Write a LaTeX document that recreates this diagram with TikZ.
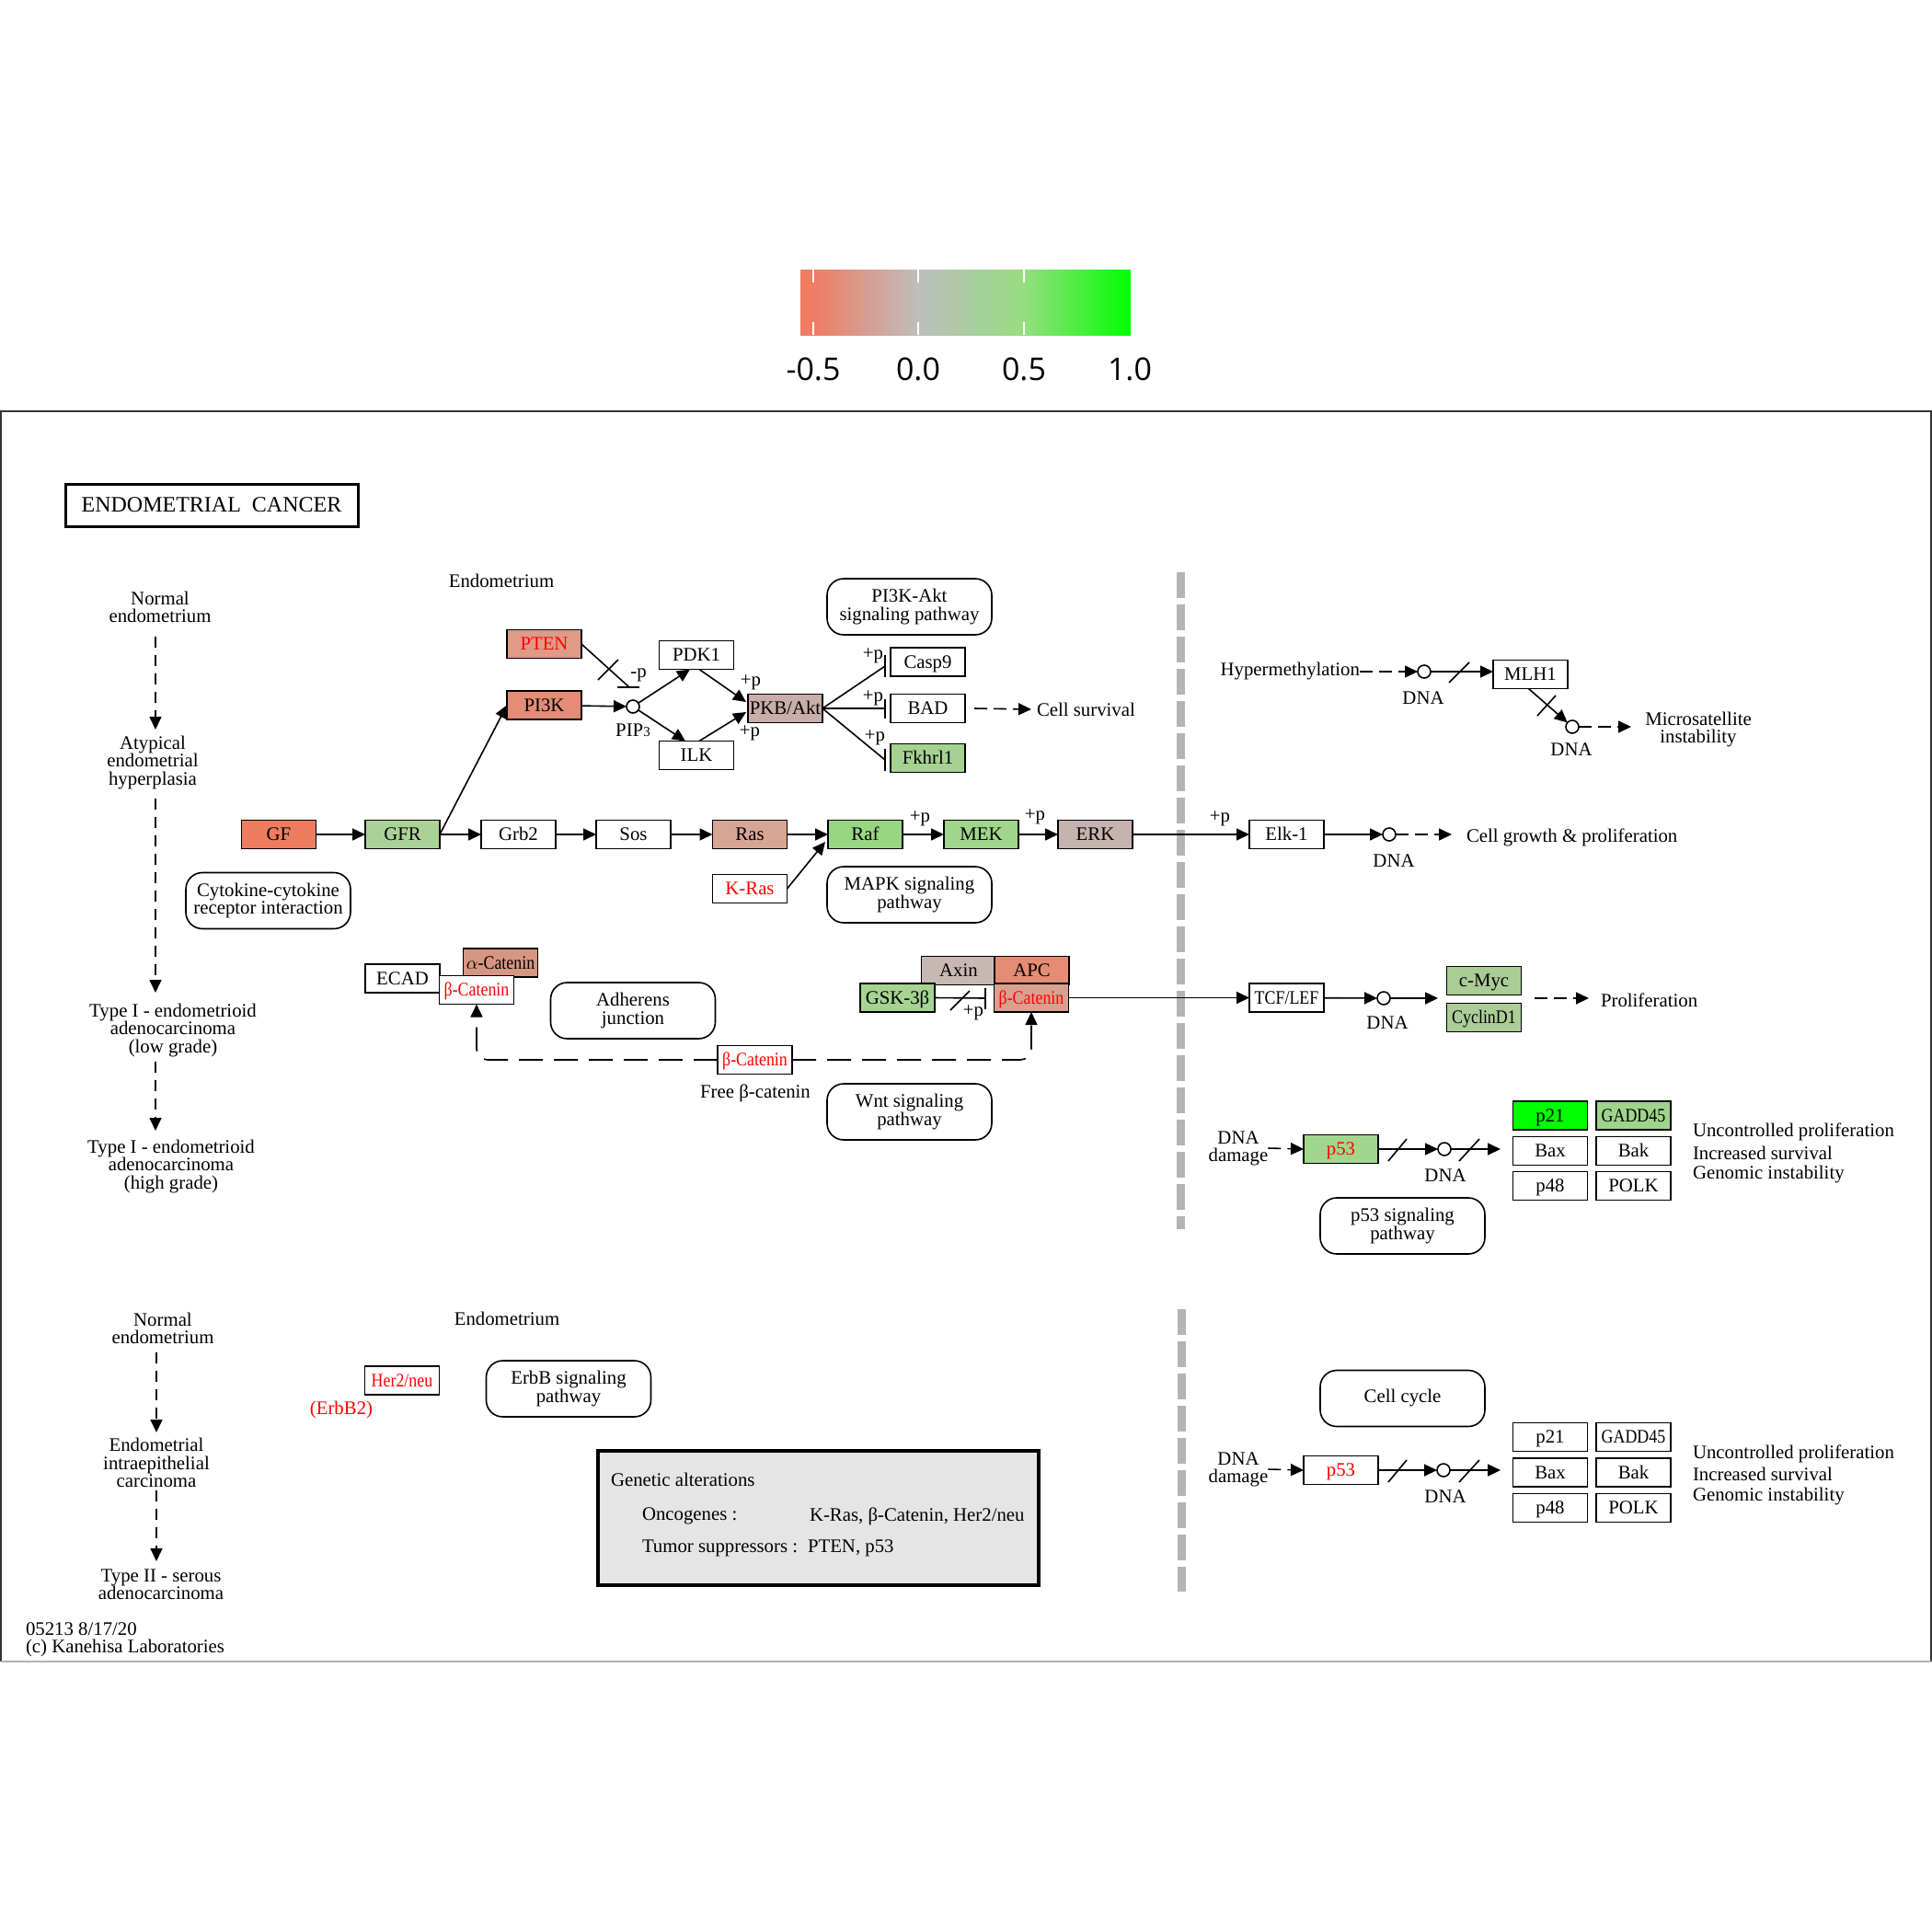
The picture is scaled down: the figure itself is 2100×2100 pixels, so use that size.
\documentclass[tikz,border=0pt]{standalone}
\usepackage{fontspec}
\setmainfont{Liberation Serif}
\newfontfamily\cbfont{Open Sans}
\newfontfamily\narrowfont{Liberation Serif}[FakeStretch=0.86]
\usetikzlibrary{arrows.meta,calc}
\definecolor{cbL}{RGB}{240,124,98}
\definecolor{cbM}{RGB}{190,190,190}
\definecolor{cbH}{RGB}{150,222,128}
\definecolor{cbR}{RGB}{0,255,0}
\definecolor{cGF}{RGB}{238,124,96}
\definecolor{cPTEN}{RGB}{222,155,136}
\definecolor{cPIK}{RGB}{228,140,118}
\definecolor{cRas}{RGB}{215,165,148}
\definecolor{cPKB}{RGB}{200,173,168}
\definecolor{cERK}{RGB}{198,178,174}
\definecolor{cAxin}{RGB}{200,184,180}
\definecolor{cAPC}{RGB}{228,140,116}
\definecolor{cACat}{RGB}{215,150,130}
\definecolor{cBCat}{RGB}{216,160,145}
\definecolor{cGFR}{RGB}{170,210,150}
\definecolor{cRaf}{RGB}{152,214,132}
\definecolor{cMEK}{RGB}{160,213,140}
\definecolor{cFkhr}{RGB}{165,210,145}
\definecolor{cGSK}{RGB}{166,211,145}
\definecolor{cMyc}{RGB}{170,205,150}
\definecolor{cCyc}{RGB}{172,205,152}
\definecolor{cPft}{RGB}{162,214,142}
\definecolor{cPtwo}{RGB}{0,255,0}
\definecolor{cGADD}{RGB}{160,212,140}
\definecolor{divgray}{RGB}{180,180,180}
\definecolor{gabox}{RGB}{229,229,229}
\definecolor{kred}{RGB}{255,0,0}
\pgfdeclarehorizontalshading{cbar}{100bp}{color(0bp)=(cbL); color(26.95bp)=(cbL); color(42.8bp)=(cbM); color(58.8bp)=(cbH); color(75bp)=(cbR); color(100bp)=(cbR)}
\newcommand\kfont{\fontsize{10.4}{9.6}\selectfont}
\newcommand\knarrow{\narrowfont\fontsize{10.4}{9.6}\selectfont}
\newcommand\ksub{\fontsize{7.5}{7.5}\selectfont}
\tikzset{
  gene/.style={draw=black, line width=0.8pt, minimum width=40.5pt, minimum height=15.5pt, inner sep=0pt, outer sep=0pt, font=\kfont, text height=7.2pt, text depth=0.6pt, fill=white},
  ngene/.style={gene, font=\knarrow},
  pmap/.style={draw=black, rounded corners=9pt, line width=0.8pt, minimum width=89.5pt, minimum height=30.5pt, inner sep=0pt, align=center, font=\kfont},
  dna/.style={circle, draw=black, line width=0.8pt, minimum size=7pt, inner sep=0pt, outer sep=0pt, fill=white},
  lbl/.style={font=\kfont, inner sep=0pt, outer sep=0pt, align=center},
  cbl/.style={font={\cbfont\fontsize{17}{17}\selectfont}, inner sep=0pt},
  act/.style={-{Triangle[length=7pt,width=6.5pt]}, line width=0.8pt},
  dact/.style={act, dash pattern=on 7pt off 3.5pt},
  fdash/.style={act, dash pattern=on 13pt off 6pt, rounded corners=6pt},
  prog/.style={act, dash pattern=on 6pt off 4pt},
  kline/.style={line width=0.8pt},
  divider/.style={line width=4.5pt, draw=divgray, dash pattern=on 14pt off 3.5pt},
}
\begin{document}
\begin{tikzpicture}[x=0.5pt,y=-0.5pt]
\useasboundingbox (0,0) rectangle (2100,2100);
\fill[white] (0,0) rectangle (2100,2100);
% ---------- colour bar
\shade[shading=cbar] (870,293) rectangle (1229,364);
\foreach \t in {884,998,1113}{
  \draw[white,line width=1pt] (\t,293) -- (\t,307);
  \draw[white,line width=1pt] (\t,350) -- (\t,364);
}
\node[cbl] (cb1) at (884,401) {-0.5};
\node[cbl] (cb2) at (998,401) {0.0};
\node[cbl] (cb3) at (1113,401) {0.5};
\node[cbl] (cb4) at (1228,401) {1.0};
% ---------- frame and dividers
\draw[black!80,line width=1pt] (1,1806) -- (1,447) -- (2099,447) -- (2099,1806);
\draw[black!30,line width=1pt] (1,1806) -- (2099,1806);
\draw[divider] (1283,622) -- (1283,1336);
\draw[divider] (1284,1423) -- (1284,1730);
% ---------- title
\node[draw, line width=1.5pt, minimum width=159pt, minimum height=23pt, inner sep=0pt, font=\fontsize{12}{12}\selectfont] (title) at (230,549) {ENDOMETRIAL\ \ CANCER};
% ---------- left progression column (upper)
\node[lbl] (ne1) at (174,660) {Normal\\endometrium};
\node[lbl] (aeh) at (166,829) {Atypical\\endometrial\\hyperplasia};
\node[lbl] (t1l) at (188,1120) {Type I - endometrioid\\adenocarcinoma\\(low grade)};
\node[lbl] (t1h) at (186,1268) {Type I - endometrioid\\adenocarcinoma\\(high grade)};
\coordinate (s1a) at (169,692); \coordinate (s1b) at (169,793);
\coordinate (s2a) at (169,868); \coordinate (s2b) at (169,1079);
\coordinate (s3a) at (169,1154); \coordinate (s3b) at (169,1229);
\draw[prog] (s1a) -- (s1b);
\draw[prog] (s2a) -- (s2b);
\draw[prog] (s3a) -- (s3b);
% ---------- left progression column (lower)
\node[lbl] (ne2) at (177,1444) {Normal\\endometrium};
\node[lbl] (eic) at (170,1590) {Endometrial\\intraepithelial\\carcinoma};
\node[lbl] (t2) at (175,1722) {Type II - serous\\adenocarcinoma};
\coordinate (s4a) at (170,1470); \coordinate (s4b) at (170,1557);
\coordinate (s5a) at (170,1620); \coordinate (s5b) at (170,1697);
\draw[prog] (s4a) -- (s4b);
\draw[prog] (s5a) -- (s5b);
\node[lbl, align=left, anchor=west] (foot) at (28,1782) {05213 8/17/20\\(c) Kanehisa Laboratories};
% ---------- section labels
\node[lbl] (endo1) at (545,631) {Endometrium};
\node[lbl] (endo2) at (551,1433) {Endometrium};
% ---------- pathway map boxes
\node[pmap] (pi3kakt) at (988.5,659.5) {PI3K-Akt\\signaling pathway};
\node[pmap] (mapk) at (988.5,972.5) {MAPK signaling\\pathway};
\node[pmap] (cyto) at (291.5,979) {Cytokine-cytokine\\receptor interaction};
\node[pmap] (adh) at (688,1098.5) {Adherens\\junction};
\node[pmap] (wnt) at (988.5,1208.5) {Wnt signaling\\pathway};
\node[pmap] (p53sig) at (1524.5,1332.5) {p53 signaling\\pathway};
\node[pmap] (ccyc) at (1524.5,1520) {Cell cycle};
\node[pmap] (erbb) at (618,1509.5) {ErbB signaling\\pathway};
% ---------- PI3K branch
\node[gene, fill=cPTEN, text=kred] (PTEN) at (591.5,700) {PTEN};
\node[gene, fill=cPIK] (PI3K) at (591.5,766.5) {PI3K};
\node[gene] (PDK1) at (757,712) {PDK1};
\node[gene] (ILK) at (757,821) {ILK};
\node[gene, fill=cPKB] (PKB) at (853.5,770) {PKB/Akt};
\node[gene] (Casp9) at (1008.5,719.5) {Casp9};
\node[gene] (BAD) at (1008.5,770) {BAD};
\node[gene, fill=cFkhr] (Fkhrl1) at (1008.5,824) {Fkhrl1};
\node[dna] (pip3) at (688,768) {};
\node[lbl] (pip3l) at (688,794) {PIP{\ksub 3}};
\node[lbl] (mp) at (694,734) {-p};
\node[lbl, anchor=west] (surv) at (1127,771) {Cell survival};
\coordinate (ptenEnd) at (684,747);
\draw[kline] (PTEN.east) -- (ptenEnd);
\draw[kline] ($(ptenEnd)+(-13,0)$) -- ($(ptenEnd)+(11,0)$);
\draw[kline] (650,739) -- (672,717);
\draw[act] (PI3K) -- (pip3);
\draw[act] (pip3) -- ($(PDK1.south)+(-7,0)$);
\draw[act] (pip3) -- ($(ILK.north)+(-12,0)$);
\draw[act] ($(PDK1.south)+(3,0)$) -- ($(PKB.west)+(-2,-7)$);
\draw[act] ($(ILK.north)+(3,0)$) -- ($(PKB.west)+(-2,4)$);
\node[lbl] (pp1) at (816,742) {+p};
\node[lbl] (pp2) at (815,797) {+p};
\coordinate (tCas) at (962,724);
\coordinate (tBad) at (962,770);
\coordinate (tFk) at (962,826);
\draw[kline] (PKB.east) -- (tCas);
\draw[kline] (PKB.east) -- (tBad);
\draw[kline] (PKB.east) -- (tFk);
\draw[kline] ($(tCas)+(0,-12)$) -- ($(tCas)+(0,12)$);
\draw[kline] ($(tBad)+(0,-10)$) -- ($(tBad)+(0,11)$);
\draw[kline] ($(tFk)+(0,-12)$) -- ($(tFk)+(0,12)$);
\node[lbl] (pp3) at (949,713) {+p};
\node[lbl] (pp4) at (949,759) {+p};
\node[lbl] (pp5) at (951,802) {+p};
\draw[dact] ($(BAD.east)+(10,0)$) -- ($(surv.west)+(-6,0)$);
% ---------- MAPK row
\node[gene, fill=cGF] (GF) at (303,907) {GF};
\node[gene, fill=cGFR] (GFR) at (437.5,907) {GFR};
\node[gene] (Grb2) at (563.5,907) {Grb2};
\node[gene] (Sos) at (688.5,907) {Sos};
\node[gene, fill=cRas] (Ras) at (815,907) {Ras};
\node[gene, fill=cRaf] (Raf) at (940.5,907) {Raf};
\node[gene, fill=cMEK] (MEK) at (1066.5,907) {MEK};
\node[gene, fill=cERK] (ERK) at (1190.5,907) {ERK};
\node[gene, text=kred] (KRas) at (815,966) {K-Ras};
\node[gene] (Elk1) at (1398.5,907) {Elk-1};
\draw[act] (GF) -- (GFR);
\draw[act] (GFR) -- (Grb2);
\draw[act] (Grb2) -- (Sos);
\draw[act] (Sos) -- (Ras);
\draw[act] (Ras) -- (Raf);
\draw[act] (Raf) -- (MEK);
\draw[act] (MEK) -- (ERK);
\draw[act] (ERK) -- (Elk1);
\draw[act] (GFR.east) -- (PI3K.west);
\draw[act] (KRas.east) -- ($(Raf.west)+(-3,8)$);
\node[lbl] (pp6) at (1000,890) {+p};
\node[lbl] (pp7) at (1125,888) {+p};
\node[lbl] (pp8) at (1326,890) {+p};
\node[dna] (dna3) at (1510,907) {};
\node[lbl] (dna3l) at (1515,936) {DNA};
\node[lbl, anchor=west] (cgp) at (1594,910) {Cell growth \& proliferation};
\coordinate (cgA) at (1578,907);
\draw[act] (Elk1) -- (dna3);
\draw[dact] (dna3) -- (cgA);
% ---------- MLH1
\node[lbl, anchor=east] (hyper) at (1478,730) {Hypermethylation};
\node[dna] (dna1) at (1548,730) {};
\node[lbl] (dna1l) at (1547,759) {DNA};
\node[gene] (MLH1) at (1663.5,733) {MLH1};
\node[dna] (dna2) at (1709,790) {};
\node[lbl] (dna2l) at (1708,815) {DNA};
\node[lbl] (msi) at (1846,793) {Microsatellite\\instability};
\coordinate (msiA) at (1773,790);
\draw[dact] (hyper.east) -- (dna1);
\draw[act] (dna1) -- (dna1 -| MLH1.west);
\draw[kline] (1575,742) -- (1597,720);
\draw[act] ($(MLH1.south)+(-2,0)$) -- (dna2);
\draw[kline] (1671,778) -- (1691,756);
\draw[dact] (dna2) -- (msiA);
% ---------- adherens / catenin
\node[gene] (ECAD) at (437.5,1063.5) {ECAD};
\node[ngene, fill=cACat] (ACat) at (544,1046.5) {$\alpha$-Catenin};
\node[ngene, text=kred] (BCat1) at (518,1076) {β-Catenin};
\node[gene, fill=cAxin] (Axin) at (1042,1055) {Axin};
\node[gene, fill=cAPC] (APC) at (1121.5,1055) {APC};
\node[gene, fill=cGSK] (GSK) at (975.5,1084.5) {GSK-3β};
\node[ngene, fill=cBCat, text=kred] (BCat2) at (1121,1084.5) {β-Catenin};
\node[ngene, text=kred] (FBCat) at (820.5,1152) {β-Catenin};
\node[lbl] (fbl) at (821,1188) {Free β-catenin};
\node[ngene] (TCF) at (1398.5,1084.5) {TCF/LEF};
\coordinate (tGsk) at (1071,1085);
\draw[kline] (GSK.east) -- (tGsk);
\draw[kline] ($(tGsk)+(0,-11)$) -- ($(tGsk)+(0,12)$);
\draw[kline] (1033,1098) -- (1054,1077);
\node[lbl] (pp9) at (1058,1101) {+p};
\draw[act] (BCat2.east) -- (TCF.west);
\draw[fdash] (FBCat.east) -| (BCat2.south);
\draw[fdash] (FBCat.west) -| (BCat1.south);
\node[dna] (dna4) at (1504,1085) {};
\node[lbl] (dna4l) at (1508,1112) {DNA};
\node[gene, fill=cMyc] (Myc) at (1613,1066) {c-Myc};
\node[ngene, fill=cCyc] (Cyc) at (1613,1106) {CyclinD1};
\coordinate (mycA) at (1563,1085);
\coordinate (prS) at (1668,1085);
\coordinate (prE) at (1727,1085);
\node[lbl, anchor=west] (prol) at (1740,1087) {Proliferation};
\draw[act] (TCF) -- (dna4);
\draw[act] (dna4) -- (mycA);
\draw[dact] (prS) -- (prE);
% ---------- p53 (upper)
\node[lbl] (dd1) at (1346,1248) {DNA\\damage};
\node[gene, fill=cPft, text=kred] (p53a) at (1457.5,1249) {p53};
\node[dna] (dna5) at (1570,1249) {};
\node[lbl] (dna5l) at (1571,1278) {DNA};
\coordinate (g1) at (1631,1249);
\draw[dact] (dd1.east) -- (p53a.west);
\draw[act] (p53a.east) -- (dna5);
\draw[kline] (1509,1262) -- (1529,1238);
\draw[act] (dna5) -- (g1);
\draw[kline] (1586,1262) -- (1608,1238);
\node[gene, fill=cPtwo] (p21a) at (1685,1212.5) {p21};
\node[ngene, fill=cGADD] (gadda) at (1775.5,1212.5) {GADD45};
\node[gene] (baxa) at (1685,1251) {Bax};
\node[gene] (baka) at (1775.5,1251) {Bak};
\node[gene] (p48a) at (1685,1289) {p48};
\node[gene] (polka) at (1775.5,1289) {POLK};
\node[lbl, anchor=west] (ua) at (1840,1230) {Uncontrolled proliferation};
\node[lbl, anchor=west] (isa) at (1840,1253) {Increased survival};
\node[lbl, anchor=west] (gia) at (1840,1277) {Genomic instability};
% ---------- p53 (lower)
\node[lbl] (dd2) at (1346,1597) {DNA\\damage};
\node[gene, text=kred] (p53b) at (1457.5,1598) {p53};
\node[dna] (dna6) at (1569,1598) {};
\node[lbl] (dna6l) at (1571,1627) {DNA};
\coordinate (g2) at (1631,1598);
\draw[dact] (dd2.east) -- (p53b.west);
\draw[act] (p53b.east) -- (dna6);
\draw[kline] (1509,1611) -- (1529,1587);
\draw[act] (dna6) -- (g2);
\draw[kline] (1586,1611) -- (1608,1587);
\node[gene] (p21b) at (1685,1562) {p21};
\node[ngene] (gaddb) at (1775.5,1562) {GADD45};
\node[gene] (baxb) at (1685,1600.5) {Bax};
\node[gene] (bakb) at (1775.5,1600.5) {Bak};
\node[gene] (p48b) at (1685,1639) {p48};
\node[gene] (polkb) at (1775.5,1639) {POLK};
\node[lbl, anchor=west] (ub) at (1840,1580) {Uncontrolled proliferation};
\node[lbl, anchor=west] (isb) at (1840,1602) {Increased survival};
\node[lbl, anchor=west] (gib) at (1840,1627) {Genomic instability};
% ---------- ErbB / Her2
\node[ngene, text=kred] (her2) at (437,1500.5) {Her2/neu};
\node[lbl, text=kred] (erbb2) at (371,1532) {(ErbB2)};
% ---------- genetic alterations box
\node[draw, line width=2pt, fill=gabox, minimum width=239.5pt, minimum height=73pt, inner sep=0pt] (ga) at (889.5,1650) {};
\node[lbl, anchor=west] (ga1) at (664,1608) {Genetic alterations};
\node[lbl, anchor=west] (ga2) at (698,1648) {Oncogenes :};
\node[lbl, anchor=west] (ga3) at (880,1648) {K-Ras, β-Catenin, Her2/neu};
\node[lbl, anchor=west] (ga4) at (698,1683) {Tumor suppressors :};
\node[lbl, anchor=west] (ga5) at (878,1683) {PTEN, p53};
\end{tikzpicture}
\end{document}
